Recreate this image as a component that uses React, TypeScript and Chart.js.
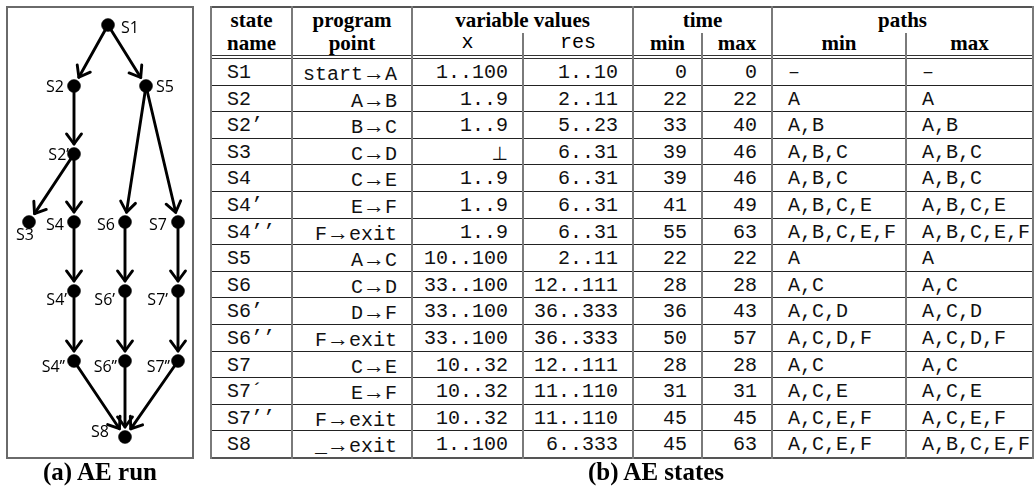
import React, { useEffect, useRef } from 'react';
import { Chart, registerables } from 'chart.js';

Chart.register(...registerables);

// ---------- (a) AE run : graph data ----------
const NODE_NAMES = ['S1', 'S2', 'S5', 'S2’', 'S3', 'S4', 'S6', 'S7', 'S4’', 'S6’', 'S7’', 'S4’’', 'S6’’', 'S7’’', 'S8'];
// layout coordinates of the nodes (graph space)
const NODE_X = [108, 74, 146, 74, 29, 74, 125, 178, 74, 125, 178, 74, 125, 178, 125];
const NODE_Y = [25, 86, 86, 154, 222, 222, 222, 222, 291, 291, 291, 361, 361, 361, 437];
const EDGE_FROM = ['S1', 'S1', 'S2', 'S2’', 'S2’', 'S5', 'S5', 'S4', 'S6', 'S7', 'S4’', 'S6’', 'S7’', 'S4’’', 'S6’’', 'S7’’'];
const EDGE_TO = ['S2', 'S5', 'S2’', 'S3', 'S4', 'S6', 'S7', 'S4’', 'S6’', 'S7’', 'S4’’', 'S6’’', 'S7’’', 'S8', 'S8', 'S8'];

// label placement (style): offset from the node, in pixels, and alignment
const LABEL_DX = [13, -10, 10, -5, -13, -10, -10, -11, -7, -10, -10, -9, -8, -8, -16];
const LABEL_DY = [8, 6, 6, 6, 18, 8, 8, 8, 14, 14, 14, 11, 11, 11, 0];
const LABEL_ALIGN = ['left', 'right', 'left', 'right', 'left', 'right', 'right', 'right', 'right', 'right', 'right', 'right', 'right', 'right', 'right'];

// ---------- (b) AE states : table data ----------
const STATE_NAMES = ['S1', 'S2', 'S2’', 'S3', 'S4', 'S4’', 'S4’’', 'S5', 'S6', 'S6’', 'S6’’', 'S7', 'S7´', 'S7’’', 'S8'];
const PROGRAM_POINTS = ['start→A', 'A→B', 'B→C', 'C→D', 'C→E', 'E→F', 'F→exit', 'A→C', 'C→D', 'D→F', 'F→exit', 'C→E', 'E→F', 'F→exit', '_→exit'];
const X_VALUES = ['1..100', '1..9', '1..9', '⊥', '1..9', '1..9', '1..9', '10..100', '33..100', '33..100', '33..100', '10..32', '10..32', '10..32', '1..100'];
const RES_VALUES = ['1..10', '2..11', '5..23', '6..31', '6..31', '6..31', '6..31', '2..11', '12..111', '36..333', '36..333', '12..111', '11..110', '11..110', '6..333'];
const TIME_MIN = [0, 22, 33, 39, 39, 41, 55, 22, 28, 36, 50, 28, 31, 45, 45];
const TIME_MAX = [0, 22, 40, 46, 46, 49, 63, 22, 28, 43, 57, 28, 31, 45, 63];
const PATHS_MIN = ['–', 'A', 'A,B', 'A,B,C', 'A,B,C', 'A,B,C,E', 'A,B,C,E,F', 'A', 'A,C', 'A,C,D', 'A,C,D,F', 'A,C', 'A,C,E', 'A,C,E,F', 'A,C,E,F'];
const PATHS_MAX = ['–', 'A', 'A,B', 'A,B,C', 'A,B,C', 'A,B,C,E', 'A,B,C,E,F', 'A', 'A,C', 'A,C,D', 'A,C,D,F', 'A,C', 'A,C,E', 'A,C,E,F', 'A,B,C,E,F'];

const HEADER_TOP = ['state', 'program', 'variable values', 'time', 'paths'];
const HEADER_TOP_SPAN = [1, 1, 2, 2, 2];
const HEADER_BOTTOM = ['name', 'point', 'x', 'res', 'min', 'max', 'min', 'max'];
const HEADER_BOTTOM_MONO = [false, false, true, true, false, false, false, false];

// layout (style)
const COL_EDGES = [211, 292, 412, 523, 633, 702, 772, 906, 1033];
const COL_ALIGN = ['left', 'right', 'right', 'right', 'right', 'right', 'left', 'left'];
const FULL_VLINES = [211, 292, 412, 633, 772, 1033];
const PART_VLINES = [523, 702, 906];
const TABLE_TOP = 7;
const BODY_TOP = 59;
const BODY_BOTTOM = 458;

const MONO = "'Liberation Mono', 'Courier New', Cousine, 'Nimbus Mono PS', 'FreeMono', Courier, monospace";
const SERIF = "'Liberation Serif', 'Times New Roman', 'DejaVu Serif', serif";

const edgePlugin = {
  id: 'aeEdges',
  beforeDatasetsDraw(chart: any) {
    const ctx = chart.ctx;
    const xs = chart.scales.x;
    const ys = chart.scales.y;
    ctx.save();
    ctx.strokeStyle = '#000';
    ctx.lineWidth = 2.9;
    ctx.lineCap = 'round';
    ctx.lineJoin = 'round';
    for (let i = 0; i < EDGE_FROM.length; i++) {
      const a = NODE_NAMES.indexOf(EDGE_FROM[i]);
      const b = NODE_NAMES.indexOf(EDGE_TO[i]);
      const x0 = xs.getPixelForValue(NODE_X[a]);
      const y0 = ys.getPixelForValue(NODE_Y[a]);
      const x1 = xs.getPixelForValue(NODE_X[b]);
      const y1 = ys.getPixelForValue(NODE_Y[b]);
      const dx = x1 - x0;
      const dy = y1 - y0;
      const len = Math.sqrt(dx * dx + dy * dy);
      const ux = dx / len;
      const uy = dy / len;
      const tx = x1 - ux * 10;
      const ty = y1 - uy * 10;
      ctx.beginPath();
      ctx.moveTo(x0, y0);
      ctx.lineTo(tx, ty);
      ctx.stroke();
      const ang = Math.atan2(uy, ux);
      const arm = 12.5;
      const spread = 0.64;
      ctx.beginPath();
      ctx.moveTo(tx + arm * Math.cos(ang + Math.PI - spread), ty + arm * Math.sin(ang + Math.PI - spread));
      ctx.lineTo(tx, ty);
      ctx.lineTo(tx + arm * Math.cos(ang + Math.PI + spread), ty + arm * Math.sin(ang + Math.PI + spread));
      ctx.stroke();
    }
    ctx.restore();
  },
  afterDatasetsDraw(chart: any) {
    const ctx = chart.ctx;
    const xs = chart.scales.x;
    const ys = chart.scales.y;
    ctx.save();
    ctx.fillStyle = '#000';
    ctx.font = "16px 'Open Sans', 'Noto Sans', sans-serif";
    ctx.textBaseline = 'alphabetic';
    for (let i = 0; i < NODE_NAMES.length; i++) {
      const px = xs.getPixelForValue(NODE_X[i]);
      const py = ys.getPixelForValue(NODE_Y[i]);
      ctx.textAlign = LABEL_ALIGN[i];
      ctx.fillText(NODE_NAMES[i], px + LABEL_DX[i], py + LABEL_DY[i]);
    }
    ctx.restore();
  },
};

function GraphChart() {
  const ref = useRef<HTMLCanvasElement | null>(null);
  useEffect(() => {
    if (!ref.current) return;
    const chart = new Chart(ref.current, {
      type: 'scatter',
      data: {
        datasets: [
          {
            label: 'states',
            data: NODE_NAMES.map((_, i) => ({ x: NODE_X[i], y: NODE_Y[i] })),
            pointRadius: 6.5,
            pointBackgroundColor: '#000',
            pointBorderColor: '#000',
            pointBorderWidth: 0.5,
            showLine: false,
          },
        ],
      },
      options: {
        animation: false,
        responsive: true,
        maintainAspectRatio: false,
        events: [],
        layout: { padding: 0, autoPadding: false },
        plugins: { legend: { display: false }, tooltip: { enabled: false } },
        scales: {
          x: { type: 'linear', min: 0, max: 200, display: false },
          y: { type: 'linear', min: 0, max: 465, reverse: true, display: false },
        },
      },
      plugins: [edgePlugin],
    } as any);
    return () => chart.destroy();
  }, []);
  return (
    <div style={{ position: 'absolute', left: 0, top: 0, width: 200, height: 465 }}>
      <canvas ref={ref} />
    </div>
  );
}

function renderPoint(s: string) {
  const parts = s.split('→');
  return (
    <>
      {parts[0]}
      <span style={{ fontFamily: SERIF, fontSize: 22 }}>→</span>
      {parts[1]}
    </>
  );
}

function renderValue(s: string) {
  if (s === '⊥') return <span style={{ fontFamily: "'DejaVu Sans', sans-serif", fontSize: 19 }}>⊥</span>;
  return s;
}

function StatesTable() {
  const rowH = (BODY_BOTTOM - BODY_TOP) / STATE_NAMES.length;
  const els: any[] = [];
  let col = 0;
  HEADER_TOP.forEach((t, i) => {
    const l = COL_EDGES[col];
    const r = COL_EDGES[col + HEADER_TOP_SPAN[i]];
    els.push(
      <div key={'ht' + i} style={{ position: 'absolute', left: l, width: r - l, top: 9.5, height: 21, lineHeight: '21px', textAlign: 'center', fontFamily: SERIF, fontWeight: 'bold', fontSize: 21, whiteSpace: 'pre' }}>{t}</div>
    );
    col += HEADER_TOP_SPAN[i];
  });
  HEADER_BOTTOM.forEach((t, i) => {
    const l = COL_EDGES[i];
    const r = COL_EDGES[i + 1];
    const mono = HEADER_BOTTOM_MONO[i];
    els.push(
      <div key={'hb' + i} style={{ position: 'absolute', left: l, width: r - l, top: mono ? 31.5 : 32.5, height: 21, lineHeight: '21px', textAlign: 'center', fontFamily: mono ? MONO : SERIF, fontWeight: mono ? 'normal' : 'bold', fontSize: mono ? 20 : 21, whiteSpace: 'pre' }}>{t}</div>
    );
  });
  const columns = [STATE_NAMES, PROGRAM_POINTS, X_VALUES, RES_VALUES, TIME_MIN.map(String), TIME_MAX.map(String), PATHS_MIN, PATHS_MAX];
  for (let r = 0; r < STATE_NAMES.length; r++) {
    const top = BODY_TOP + r * rowH;
    for (let c = 0; c < columns.length; c++) {
      const l = COL_EDGES[c];
      const w = COL_EDGES[c + 1] - l;
      const v = columns[c][r];
      const align = COL_ALIGN[c];
      els.push(
        <div key={'c' + r + '_' + c} style={{ position: 'absolute', left: l, width: w, top: top + 1, height: rowH, lineHeight: rowH + 'px', textAlign: align as any, paddingLeft: align === 'left' ? 16 : 0, paddingRight: align === 'right' ? 15 : 0, boxSizing: 'border-box', fontFamily: MONO, fontSize: 20, whiteSpace: 'pre', color: '#111' }}>
          {c === 1 ? renderPoint(v) : renderValue(v)}
        </div>
      );
    }
  }
  const hl = (y: number, key: string, h = 1, color = '#222') =>
    els.push(<div key={key} style={{ position: 'absolute', left: COL_EDGES[0] - 1, width: COL_EDGES[COL_EDGES.length - 1] - COL_EDGES[0] + 2, top: y, height: h, background: color }} />);
  hl(TABLE_TOP - 1, 'top', 2, '#555');
  hl(BODY_TOP - 4, 'dbl1', 1, '#333');
  hl(BODY_TOP - 1, 'dbl2', 1, '#333');
  for (let r = 1; r <= STATE_NAMES.length; r++) {
    hl(Math.round(BODY_TOP + r * rowH) - 1, 'rl' + r, r === STATE_NAMES.length ? 2 : 1, r === STATE_NAMES.length ? '#555' : '#222');
  }
  FULL_VLINES.forEach((x, i) =>
    els.push(<div key={'fv' + i} style={{ position: 'absolute', left: x - 1, width: 2, top: TABLE_TOP - 1, height: BODY_BOTTOM - TABLE_TOP + 2, background: '#7a7a7a' }} />)
  );
  PART_VLINES.forEach((x, i) =>
    els.push(<div key={'pv' + i} style={{ position: 'absolute', left: x - 1, width: 2, top: 33, height: BODY_BOTTOM - 33 + 1, background: '#7a7a7a' }} />)
  );
  return <>{els}</>;
}

export default function App() {
  useEffect(() => {
    document.body.style.margin = '0';
  }, []);
  return (
    <div style={{ position: 'absolute', left: 0, top: 0, width: 1036, height: 488, background: '#fff', overflow: 'hidden', color: '#000' }}>
      <div style={{ position: 'absolute', left: 6, top: 6, width: 188, height: 453, border: '2px solid #6a6a6a', boxSizing: 'border-box' }} />
      <GraphChart />
      <StatesTable />
      <div style={{ position: 'absolute', left: 0, width: 200, top: 459, height: 25, lineHeight: '25px', textAlign: 'center', fontFamily: SERIF, fontWeight: 'bold', fontSize: 25, whiteSpace: 'pre' }}>(a) AE run</div>
      <div style={{ position: 'absolute', left: 556, width: 200, top: 459, height: 25, lineHeight: '25px', textAlign: 'center', fontFamily: SERIF, fontWeight: 'bold', fontSize: 25, whiteSpace: 'pre' }}>(b) AE states</div>
    </div>
  );
}
